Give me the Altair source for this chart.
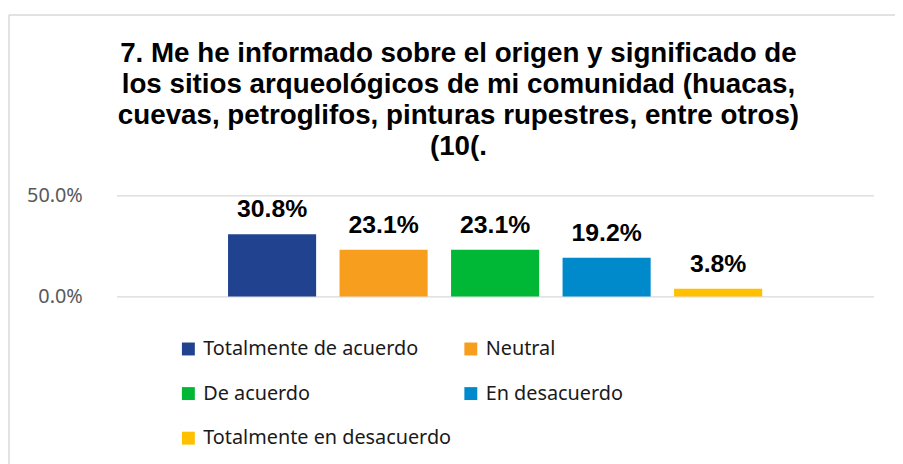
import altair as alt
import pandas as pd

categories = ["Totalmente de acuerdo", "Neutral", "De acuerdo", "En desacuerdo", "Totalmente en desacuerdo"]
values = [0.308, 0.231, 0.231, 0.192, 0.038]
colors = ["#21438F", "#F79E1F", "#00B736", "#008ACC", "#FFC000"]
title_lines = [
    "7. Me he informado sobre el origen y significado de",
    "los sitios arqueológicos de mi comunidad (huacas,",
    "cuevas, petroglifos, pinturas rupestres, entre otros)",
    "(10(.",
]

df = pd.DataFrame({"cat": categories, "val": values})

x = alt.X("cat:N", sort=categories, axis=None,
          scale=alt.Scale(paddingInner=0.21, paddingOuter=1, range=[9.5, 773.5]))
y = alt.Y("val:Q", scale=alt.Scale(domain=[0, 0.5]),
          axis=alt.Axis(values=[0, 0.5], format=".1%", title=None, domain=False,
                        ticks=False, labelPadding=25, labelFontSize=20,
                        labelColor="#595959", labelFont="Noto Sans",
                        gridColor="#D9D9D9", gridWidth=1.3))

bars = alt.Chart(df).mark_bar().encode(
    x=x, y=y,
    color=alt.Color("cat:N", sort=categories,
                    scale=alt.Scale(domain=categories, range=colors),
                    legend=alt.Legend(title=None, orient="none", legendX=72, legendY=145,
                                      direction="horizontal",
                                      columns=2, columnPadding=9, rowPadding=25,
                                      symbolType="square", symbolSize=170,
                                      symbolStrokeWidth=0, labelFontSize=20,
                                      labelFont="Noto Sans", labelColor="#1A1A1A",
                                      labelLimit=400, symbolOffset=0, labelOffset=5)),
)

labels = alt.Chart(df).mark_text(fontSize=25, fontWeight="bold", font="Liberation Sans",
                                 baseline="alphabetic", dy=-17, color="#000000").encode(
    x=x, y=y, text=alt.Text("val:Q", format=".1%"))

border = alt.Chart(pd.DataFrame({"k": [0]})).mark_rule(color="#D9D9D9", strokeWidth=1.5).encode(
    x=alt.value(-99), x2=alt.value(800), y=alt.value(-182), y2=alt.value(-182))
border_left = alt.Chart(pd.DataFrame({"k": [0]})).mark_rule(color="#D9D9D9", strokeWidth=1.5).encode(
    x=alt.value(-99), y=alt.value(-182), y2=alt.value(300))

chart = alt.layer(border, border_left, bars, labels).properties(
    width=779, height=102,
    padding={"left": 100, "top": 187, "right": 16, "bottom": 167},
    autosize=alt.AutoSizeParams(type="none"),
    title=alt.TitleParams(title_lines, fontSize=28, font="Liberation Sans", fontWeight="bold",
                          color="#000000", anchor="middle", frame="group", lineHeight=31.5,
                          offset=0, dx=-35, dy=148.5),
).configure_view(stroke=None)

chart.save("out.html", embed_options={"renderer": "svg", "actions": False})
